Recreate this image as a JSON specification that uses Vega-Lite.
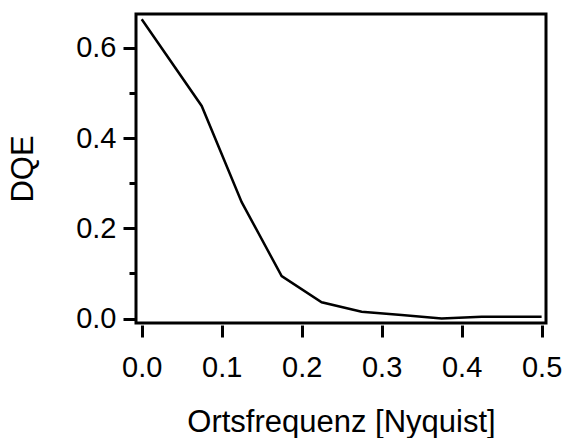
{
  "$schema": "https://vega.github.io/schema/vega-lite/v6.json",
  "autosize": "none",
  "padding": {"left": 136, "top": 14, "right": 22, "bottom": 115},
  "width": 410,
  "height": 309,
  "background": "white",
  "config": {
    "view": {"stroke": "black", "strokeWidth": 3},
    "font": "Liberation Sans",
    "axis": {
      "grid": false,
      "domain": false,
      "tickColor": "black",
      "tickWidth": 3,
      "labelColor": "black",
      "titleColor": "black",
      "labelFont": "Liberation Sans",
      "titleFont": "Liberation Sans",
      "labelFontSize": 29,
      "titleFontSize": 31,
      "titleFontWeight": "normal"
    }
  },
  "data": {
    "values": [
      {"f": 0.0, "dqe": 0.663},
      {"f": 0.075, "dqe": 0.471},
      {"f": 0.125, "dqe": 0.258},
      {"f": 0.175, "dqe": 0.094},
      {"f": 0.225, "dqe": 0.036},
      {"f": 0.275, "dqe": 0.015},
      {"f": 0.325, "dqe": 0.008},
      {"f": 0.375, "dqe": 0.0},
      {"f": 0.425, "dqe": 0.004},
      {"f": 0.475, "dqe": 0.004},
      {"f": 0.5, "dqe": 0.004}
    ]
  },
  "layer": [
    {
      "mark": {"type": "line", "color": "black", "strokeWidth": 2.5, "clip": true},
      "encoding": {
        "x": {
          "field": "f", "type": "quantitative",
          "scale": {"domain": [-0.00714, 0.5055], "nice": false, "zero": false},
          "axis": {
            "orient": "bottom",
            "values": [0, 0.1, 0.2, 0.3, 0.4, 0.5],
            "format": ".1f",
            "offset": 2,
            "tickSize": 12,
            "labelPadding": 16,
            "title": "Ortsfrequenz [Nyquist]",
            "titlePadding": 25
          }
        },
        "y": {
          "field": "dqe", "type": "quantitative",
          "scale": {"domain": [-0.0098, 0.6747], "nice": false, "zero": false},
          "axis": {
            "orient": "left",
            "values": [0, 0.2, 0.4, 0.6],
            "format": ".1f",
            "tickSize": 13,
            "labelPadding": 7,
            "title": "DQE",
            "titlePadding": 36
          }
        }
      }
    },
    {
      "mark": {"type": "line", "strokeOpacity": 0},
      "encoding": {
        "x": {"field": "f", "type": "quantitative"},
        "y": {
          "field": "dqe", "type": "quantitative",
          "axis": {
            "orient": "left",
            "values": [0.1, 0.3, 0.5],
            "tickSize": 7,
            "labels": false,
            "title": null
          }
        }
      }
    }
  ],
  "resolve": {"axis": {"y": "independent"}}
}
